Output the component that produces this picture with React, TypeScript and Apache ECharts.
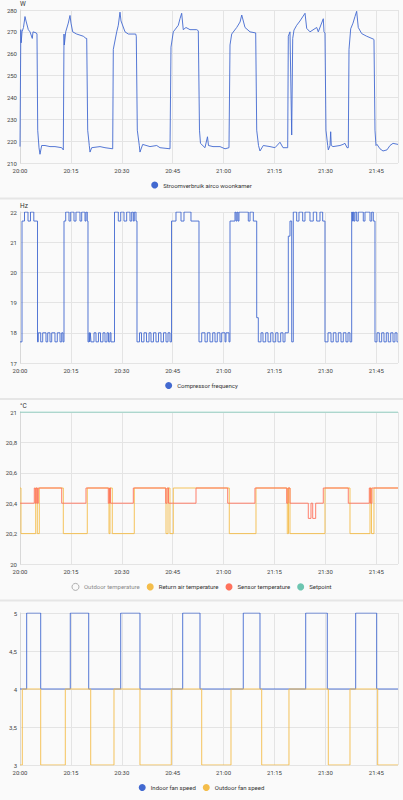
import React, { useEffect, useRef } from "react";
import * as echarts from "echarts";

// ---- time axis (minutes after 20:00) ----
const X_MIN = 0;
const X_MAX = 111.4;
const X_INTERVAL = 15;

// ---- Panel 1: Stroomverbruik airco woonkamer (W) ----
const power: [number, number][] = [
  [0, 217.5], [0.15, 217.5], [0.24, 271], [0.35, 265], [0.59, 270], [1.03, 272], [1.47, 277], [1.77, 275],
  [2.45, 271], [2.95, 270], [3.62, 267], [3.83, 270], [4.8, 269.5], [5.01, 269], [5.22, 225], [5.6, 217],
  [5.89, 214], [6.39, 218], [7.37, 218], [8.84, 217.5], [10.31, 217.5], [12.29, 217], [12.76, 216],
  [12.97, 269], [13.06, 264], [13.47, 270], [14.23, 274], [14.74, 277.5], [15.03, 274], [15.53, 270],
  [16.71, 269], [18.65, 268], [19.45, 267], [19.66, 267], [19.95, 225], [20.42, 218], [20.63, 215],
  [21.13, 217], [23.58, 217.5], [25.05, 217], [27.32, 216.5], [27.5, 262], [28.5, 270], [28.97, 273],
  [29.47, 279], [29.77, 275], [30.95, 270], [31.92, 269], [34.1, 269], [34.27, 268], [34.57, 225],
  [35.16, 218], [35.36, 215], [36.16, 218.5], [38.31, 217.5], [40.29, 218], [41.26, 217], [44.21, 216.5],
  [44.5, 263], [45.18, 270], [46.65, 273], [47.15, 276], [47.65, 278.5], [48.12, 271], [48.92, 272],
  [50.1, 271], [52.07, 271], [52.55, 270.5], [52.9, 225], [53.19, 219], [54.52, 217], [55.25, 222],
  [55.55, 218], [56.88, 217.5], [58.94, 217.5], [60.42, 216.5], [61.59, 217], [61.89, 264], [62.39, 269],
  [63.86, 272], [64.85, 274.5], [65.35, 277.7], [66.31, 272], [67.79, 270], [69.46, 269.5], [69.76, 225],
  [70.29, 218], [70.73, 215.5], [71.7, 218], [73.68, 217.5], [75.15, 217], [76.62, 219.5], [77.51, 217],
  [78.89, 217], [79.07, 268], [79.57, 270], [80.07, 222.8], [80.37, 267], [80.75, 270.8], [81.54, 273],
  [82.52, 275], [84.0, 278.5], [84.49, 271.6], [85.46, 270], [87.44, 272], [87.91, 270], [89.38, 276],
  [89.59, 270], [89.88, 269.5], [90.17, 225], [90.68, 218], [90.86, 216], [91.36, 218], [91.56, 224.3],
  [91.74, 218], [92.24, 217.5], [94.3, 218], [95.19, 218.5], [95.78, 219], [96.37, 217], [96.75, 217],
  [96.96, 262], [97.46, 271.4], [98.14, 274], [98.72, 277], [99.22, 279.4], [99.69, 272], [100.7, 269.2],
  [102.17, 268], [104.12, 266.7], [104.32, 266.5], [104.62, 225], [104.91, 218], [105.21, 218.5],
  [106.09, 216.5], [106.98, 215.5], [108.15, 216], [109.04, 218], [109.93, 219], [111.4, 218.5],
];

// ---- Panel 2: Compressor frequency (Hz) ----
const compressor: [number, number][] = [
  [0, 17.7], [0.59, 21.7], [1.33, 22], [2.36, 21.7], [3.09, 22], [4.07, 21.7], [5.16, 17.7], [5.39, 18],
  [6.1, 17.7], [6.69, 18], [7.66, 17.7], [8.16, 18], [8.84, 17.7], [9.34, 18], [10.31, 17.7], [10.99, 18],
  [11.79, 17.7], [12.29, 18], [12.67, 17.7], [12.97, 21.7], [13.47, 22], [14.44, 21.7], [14.94, 22],
  [15.91, 21.7], [16.5, 22], [17.68, 21.7], [18.18, 22], [19.16, 21.7], [19.45, 22], [19.83, 21.7],
  [20.04, 17.7], [20.33, 18], [20.54, 17.7], [20.72, 18], [20.92, 17.7], [21.81, 18], [22.4, 17.7],
  [23.13, 18], [23.72, 17.7], [24.46, 18], [25.05, 17.7], [25.64, 18], [26.08, 17.7], [26.52, 18],
  [26.82, 17.7], [27.85, 22], [28.97, 21.7], [29.68, 22], [30.65, 21.7], [31.44, 22], [32.42, 21.7],
  [32.92, 22], [33.39, 21.7], [33.68, 22], [34.19, 21.7], [34.48, 17.7], [35.22, 18], [35.81, 17.7],
  [36.54, 18], [37.28, 17.7], [38.02, 18], [38.61, 17.7], [39.34, 18], [40.08, 17.7], [40.82, 18],
  [41.55, 17.7], [42.29, 18], [43.03, 17.7], [43.62, 18], [44.21, 17.7], [44.65, 21.7], [45.97, 22],
  [47.45, 21.7], [48.33, 22], [50.39, 21.7], [52.75, 17.7], [53.55, 18], [54.52, 17.7], [55.2, 18],
  [55.99, 17.7], [56.79, 18], [57.47, 17.7], [58.14, 18], [58.94, 17.7], [59.44, 18], [60.42, 17.7],
  [60.71, 18], [61.59, 17.7], [61.89, 21.7], [63.36, 22], [63.66, 21.7], [63.95, 22], [64.25, 21.7],
  [64.54, 22], [67.28, 21.7], [67.79, 22], [68.76, 21.7], [69.76, 18.5], [70.23, 17.7], [71.02, 18],
  [71.61, 17.7], [72.41, 18], [73.09, 17.7], [73.89, 18], [74.56, 17.7], [75.36, 18], [76.03, 17.7],
  [76.83, 18], [77.51, 17.7], [78.1, 18], [79.07, 21.2], [79.57, 21.7], [80.07, 17.7], [80.54, 22],
  [81.54, 21.7], [82.22, 22], [83.31, 21.7], [83.99, 22], [85.46, 21.7], [86.43, 22], [87.44, 21.7],
  [88.41, 22], [89.2, 21.7], [89.88, 17.7], [90.77, 18], [91.65, 17.7], [92.33, 18], [93.13, 17.7],
  [93.8, 18], [94.6, 17.7], [95.28, 18], [96.07, 17.7], [96.66, 18], [97.25, 17.7], [97.75, 22],
  [97.99, 21.7], [98.22, 22], [98.43, 21.7], [98.72, 22], [99.22, 21.7], [99.69, 22], [101.17, 21.7],
  [101.67, 22], [103.15, 21.7], [103.65, 22], [104.12, 21.7], [104.62, 17.7], [105.21, 18], [105.89, 17.7],
  [106.59, 18], [107.27, 17.7], [107.95, 18], [108.54, 17.7], [109.25, 18], [109.93, 17.7], [110.51, 18],
  [111.1, 17.7], [111.4, 17.7],
];

// ---- Panel 3: temperatures (°C) ----
const outdoorTemp: [number, number][] = [];
const returnAir: [number, number][] = [
  [0, 20.5], [0.29, 20.2], [4.63, 20.5], [5.1, 20.2], [5.69, 20.5], [12.76, 20.2], [19.83, 20.5],
  [26.23, 20.2], [26.52, 20.5], [27.2, 20.2], [33.68, 20.5], [43.03, 20.2], [43.62, 20.5], [44.2, 20.2],
  [45.18, 20.5], [61.68, 20.2], [69.55, 20.5], [78.77, 20.2], [79.13, 20.5], [79.57, 20.2], [89.88, 20.5],
  [97.25, 20.2], [103.15, 20.5], [103.59, 20.2], [104.32, 20.5], [111.4, 20.5],
];
const sensorTemp: [number, number][] = [
  [0, 20.4], [4.21, 20.5], [4.5, 20.4], [4.8, 20.5], [5.1, 20.4], [5.39, 20.5], [12.29, 20.4], [19.45, 20.5],
  [26.02, 20.4], [26.38, 20.5], [26.67, 20.4], [33.39, 20.5], [42.94, 20.4], [43.32, 20.5], [43.76, 20.4],
  [51.87, 20.5], [61.21, 20.4], [69.25, 20.5], [78.6, 20.4], [78.98, 20.5], [79.57, 20.4], [84.96, 20.3],
  [85.76, 20.4], [86.26, 20.3], [87.14, 20.4], [89.38, 20.5], [96.75, 20.4], [102.94, 20.5], [103.29, 20.4],
  [103.73, 20.5], [111.4, 20.5],
];
const setpoint: [number, number][] = [[0, 21], [111.4, 21]];

// ---- Panel 4: fan speeds ----
const indoorFan: [number, number][] = [
  [0, 4], [1.97, 5], [6.1, 4], [14.82, 5], [20.25, 4], [29.68, 5], [35.36, 4], [47.95, 5], [53.05, 4],
  [65.8, 5], [70.73, 4], [84.2, 5], [90.56, 4], [98.93, 5], [105.12, 4], [111.4, 4],
];
const outdoorFan: [number, number][] = [
  [0, 3], [0.68, 4], [6.1, 3], [13.35, 4], [20.84, 3], [27.7, 4], [35.36, 3], [44.59, 4], [53.55, 3],
  [62.18, 4], [71.23, 3], [79.27, 4], [90.86, 3], [97.25, 4], [105.41, 3], [111.4, 3],
];

const FONT = "Roboto, 'Noto Sans', sans-serif";
const GRID_LINE = "#e4e4e4";
const LABEL = "#444";

const fmtTime = (v: number) => {
  if (Math.abs(v % X_INTERVAL) > 0.001) return "";
  const m = Math.round(v);
  const h = 20 + Math.floor(m / 60);
  return `${h}:${String(m % 60).padStart(2, "0")}`;
};
const fmtNum = (v: number) => String(Number(v.toFixed(2))).replace(".", ",");

export default function App() {
  const ref = useRef<HTMLDivElement>(null);
  useEffect(() => {
    document.body.style.margin = "0";
    if (!ref.current) return;
    const chart = echarts.init(ref.current, undefined, { renderer: "svg" });

    const grids = [
      { left: 20, right: 5, top: 10, height: 153 },
      { left: 20, right: 5, top: 212, height: 151 },
      { left: 20, right: 5, top: 412, height: 152 },
      { left: 20, right: 5, top: 613, height: 152 },
    ];
    const xAxis = grids.map((_, i) => ({
      gridIndex: i,
      type: "value",
      min: X_MIN,
      max: X_MAX,
      interval: X_INTERVAL,
      axisLine: { show: false },
      axisTick: { show: false },
      axisLabel: { fontSize: 6, color: LABEL, margin: 4, fontFamily: FONT, formatter: fmtTime, showMaxLabel: false },
      splitLine: { show: true, lineStyle: { color: GRID_LINE, width: 1 } },
    }));
    const yDefs = [
      { min: 210, max: 280, interval: 10, name: "W" },
      { min: 17, max: 22, interval: 1, name: "Hz" },
      { min: 20, max: 21, interval: 0.2, name: "°C" },
      { min: 3, max: 5, interval: 0.5, name: "" },
    ];
    const yAxis = yDefs.map((d, i) => ({
      gridIndex: i,
      type: "value",
      min: d.min,
      max: d.max,
      interval: d.interval,
      name: d.name,
      nameLocation: "end",
      nameGap: 3,
      nameTextStyle: { align: "left", verticalAlign: "bottom", fontSize: 6.5, color: "#333", fontFamily: FONT },
      axisLine: { show: true, lineStyle: { color: "#d8d8d8" } },
      axisTick: { show: false },
      axisLabel: { fontSize: 6, color: LABEL, margin: 3, fontFamily: FONT, formatter: fmtNum },
      splitLine: { show: true, lineStyle: { color: GRID_LINE, width: 1 } },
    }));

    const line = (name: string, data: [number, number][], idx: number, color: string, step: boolean) => ({
      name,
      type: "line",
      xAxisIndex: idx,
      yAxisIndex: idx,
      data,
      step: step ? "end" : false,
      showSymbol: false,
      symbol: "none",
      color,
      lineStyle: { color, width: 1, opacity: 0.9 },
      emphasis: { disabled: true },
    });

    const legendBase = {
      icon: "circle",
      itemWidth: 7,
      itemHeight: 7,
      itemGap: 7,
      padding: 0,
      selectedMode: false,
      left: "center",
      textStyle: { fontSize: 6, color: "#333", fontFamily: FONT },
    };

    chart.setOption({
      animation: false,
      backgroundColor: "#fafafa",
      textStyle: { fontFamily: FONT },
      grid: grids,
      xAxis,
      yAxis,
      legend: [
        { ...legendBase, top: 181.5, data: ["Stroomverbruik airco woonkamer"] },
        { ...legendBase, top: 382, data: ["Compressor frequency"] },
        {
          ...legendBase,
          top: 583,
          data: [
            {
              name: "Outdoor temperature",
              itemStyle: { color: "#fafafa", borderColor: "#9a9a9a", borderWidth: 0.8 },
              textStyle: { color: "#8a8a8a" },
            },
            "Return air temperature",
            "Sensor temperature",
            "Setpoint",
          ],
        },
        { ...legendBase, top: 784, data: ["Indoor fan speed", "Outdoor fan speed"] },
      ],
      graphic: [
        { type: "rect", left: 0, top: 197.5, shape: { width: 403, height: 2 }, style: { fill: "#e6e6e6" } },
        { type: "rect", left: 0, top: 398, shape: { width: 403, height: 2 }, style: { fill: "#e6e6e6" } },
        { type: "rect", left: 0, top: 599.5, shape: { width: 403, height: 2 }, style: { fill: "#e6e6e6" } },
      ],
      series: [
        line("Stroomverbruik airco woonkamer", power, 0, "#4269d0", false),
        line("Compressor frequency", compressor, 1, "#4269d0", true),
        line("Outdoor temperature", outdoorTemp, 2, "#9a9a9a", true),
        line("Return air temperature", returnAir, 2, "#f4bd4a", true),
        line("Sensor temperature", sensorTemp, 2, "#ff725c", true),
        line("Setpoint", setpoint, 2, "#6cc5b0", true),
        line("Indoor fan speed", indoorFan, 3, "#4269d0", true),
        line("Outdoor fan speed", outdoorFan, 3, "#f4bd4a", true),
      ],
    });
    return () => chart.dispose();
  }, []);
  return <div ref={ref} style={{ width: 403, height: 800 }} />;
}
